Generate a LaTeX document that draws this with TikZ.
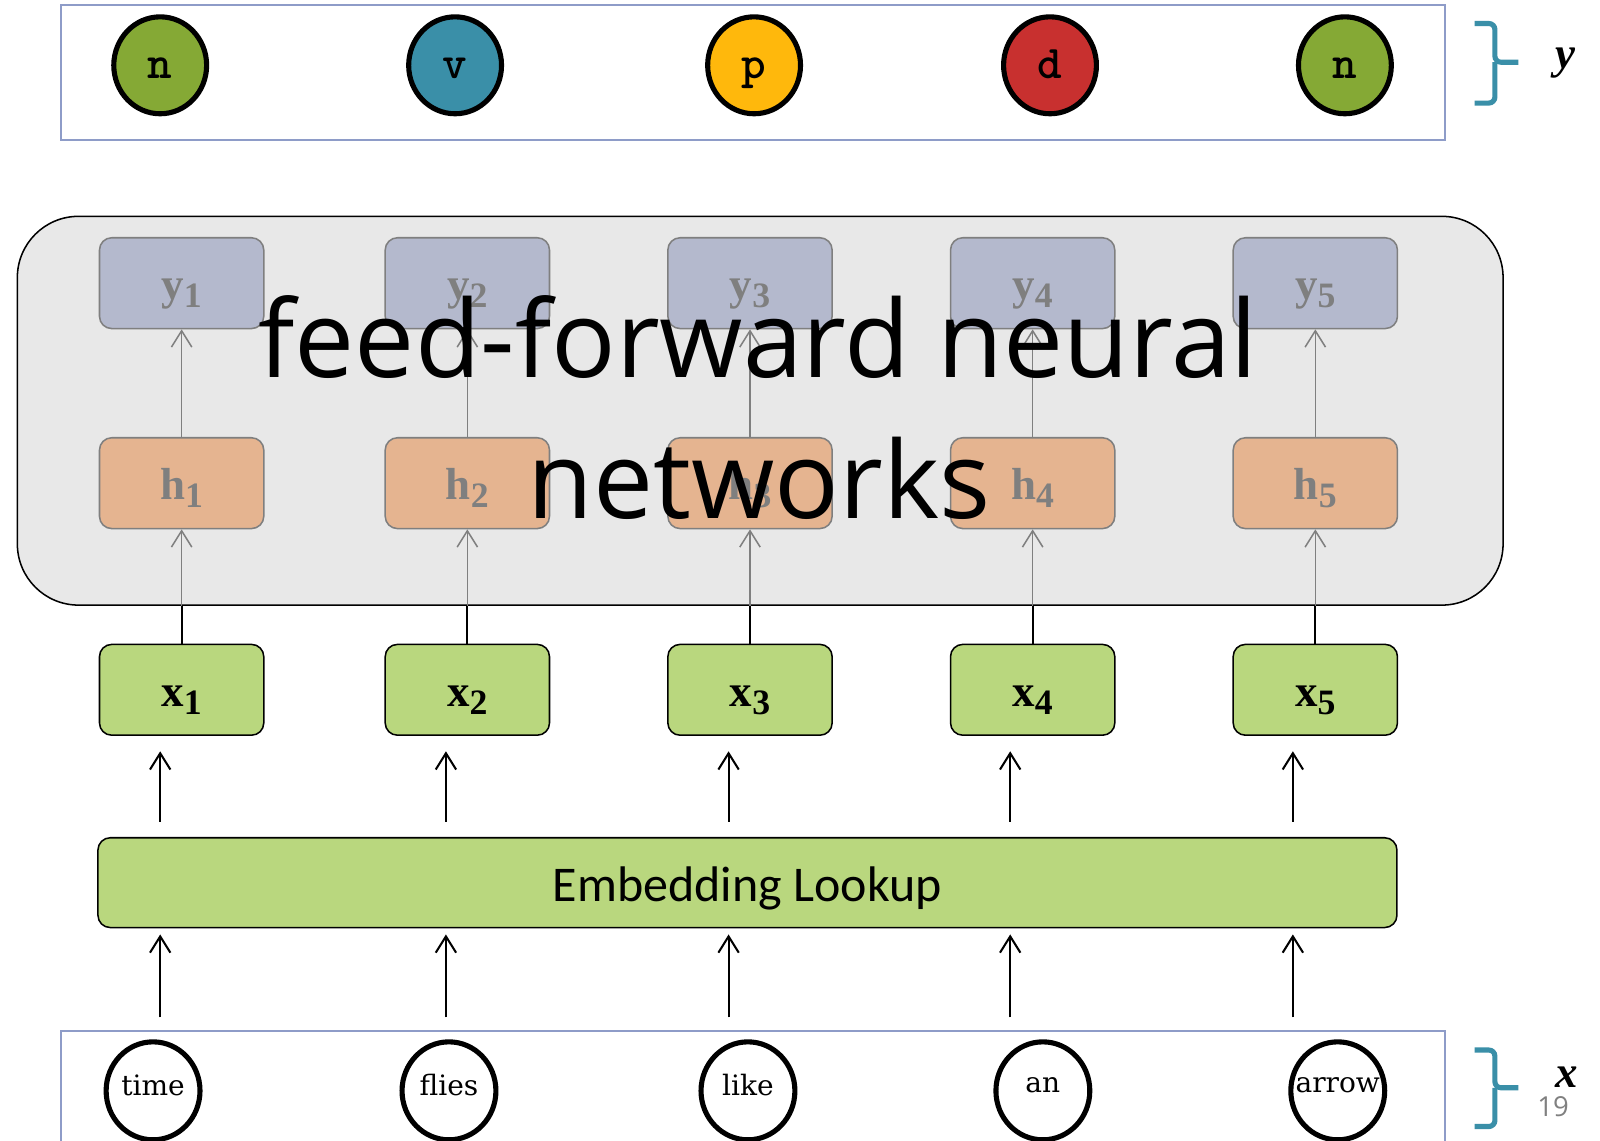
\documentclass[tikz,border=0pt]{standalone}
\usepackage{fontspec}
\setmainfont{Liberation Serif}
\newfontfamily\opensans{Open Sans}
\newfontfamily\carlito{Carlito}
\newfontfamily\dvserif{DejaVu Serif}
\usetikzlibrary{arrows.meta,calc,shapes.geometric}
\definecolor{tagframe}{HTML}{8E9CC8}
\definecolor{ngreen}{HTML}{85A935}
\definecolor{vteal}{HTML}{3A8FA8}
\definecolor{pyellow}{HTML}{FFB80C}
\definecolor{dred}{HTML}{C8302F}
\definecolor{panelgray}{HTML}{E8E8E8}
\definecolor{yfill}{HTML}{B4B9CD}
\definecolor{hfill}{HTML}{E5B490}
\definecolor{xfill}{HTML}{B9D77E}
\definecolor{gline}{HTML}{7F7F7F}
\definecolor{bracecol}{HTML}{3A8FA8}
\newcommand\tagfont{\ttfamily\bfseries\fontsize{46}{48}\selectfont}
\newcommand\wordfont{\dvserif\fontsize{27.5}{30}\selectfont}
\newcommand\boxfont{\fontsize{44}{48}\selectfont\bfseries}
\newcommand\sbs[1]{\raisebox{-8pt}{\fontsize{35}{36}\selectfont #1}}
\newcommand\bigfont{\opensans\fontsize{105}{138}\selectfont}
\newcommand\wl[1]{\makebox[0pt]{\raisebox{12pt}{#1}}}
\tikzset{
  tagcirc/.style={ellipse, draw, line width=5pt, minimum width=91pt, minimum height=95pt, inner sep=0pt, font=\tagfont, text height=26pt, text depth=0pt},
  wordcirc/.style={ellipse, draw, line width=5pt, minimum width=92pt, minimum height=96pt, inner sep=0pt, font=\wordfont},
  frame/.style={draw=tagframe, line width=2pt, minimum width=1356pt, inner sep=0pt},
  nnbox/.style={rounded corners=12pt, minimum width=161pt, minimum height=89pt, inner sep=0pt,
    font=\boxfont, text height=38pt, text depth=6pt},
  ybox/.style={nnbox, draw=gline, line width=1.5pt, fill=yfill, text=gline},
  hbox/.style={nnbox, draw=gline, line width=1.5pt, fill=hfill, text=gline},
  xbox/.style={nnbox, draw=black, line width=1.5pt, fill=xfill},
  garrow/.style={draw=gline, line width=1.5pt, -{Straight Barb[length=16pt,width=20pt]}},
  barrow/.style={draw=black, line width=2pt, -{Straight Barb[length=16pt,width=20pt]}},
  brace/.style={draw=bracecol, line width=5pt, rounded corners=6pt}
}
\begin{document}
\begin{tikzpicture}[x=1pt,y=-1pt]
\useasboundingbox (0,0) rectangle (1568,1118);
\fill[white] (0,0) rectangle (1568,1118);
% top tag row
\node[frame, minimum height=132pt] (yframe) at (738,71) {};
\node[tagcirc, fill=ngreen] (t1) at (157,64) {n};
\node[tagcirc, fill=vteal] (t2) at (446,64) {v};
\node[tagcirc, fill=pyellow] (t3) at (739,64) {p};
\node[tagcirc, fill=dred] (t4) at (1029,64) {d};
\node[tagcirc, fill=ngreen] (t5) at (1318,64) {n};
\draw[brace] (1445,23) -- (1465,23) -- (1465,61) -- (1488,61);
\draw[brace] (1445,101) -- (1465,101) -- (1465,61);
\node[font=\fontsize{44}{48}\selectfont\bfseries\itshape] (ylab) at (1534,62) {y};
% panel
\node[draw, line width=1.5pt, fill=panelgray, rounded corners=60pt, minimum width=1456pt, minimum height=381pt] (panel) at (745,402.5) {};
\foreach \i/\xx in {1/178,2/458,3/735,4/1012,5/1289}{
  \node[ybox] (y\i) at (\xx,277.5) {y\sbs{\i}};
  \node[hbox] (h\i) at (\xx,473.5) {h\sbs{\i}};
  \node[xbox] (x\i) at (\xx,676) {x\sbs{\i}};
  \draw[garrow] (h\i.north) -- (y\i.south);
  \draw[garrow] (x\i.north) -- (h\i.south);
  \draw[black, line width=2pt] (x\i.north) -- (x\i.north |- panel.south);
}
% embedding
\node[xbox, minimum width=1273pt, minimum height=88pt, font=\carlito\fontsize{49}{52}\selectfont, text height=36pt, text depth=0pt] (emb) at (732.5,865) {Embedding Lookup};
% bottom words
\node[frame, minimum height=130pt] (xframe) at (738,1075) {};
\node[wordcirc] (w1) at (150,1069) {\wl{time}};
\node[wordcirc] (w2) at (440,1069) {\wl{flies}};
\node[wordcirc] (w3) at (733,1069) {\wl{like}};
\node[wordcirc] (w4) at (1022,1069) {\wl{an}};
\node[wordcirc] (w5) at (1311,1069) {\wl{arrow}};
\foreach \i/\xx in {1/157,2/437,3/714,4/990,5/1267}{
  \coordinate (a\i) at (\xx,0);
  \draw[barrow, shorten <=15pt, shorten >=15pt] (emb.north -| a\i) -- (x\i.south -| a\i);
  \draw[barrow, shorten <=12pt, shorten >=6pt] (xframe.north -| a\i) -- (emb.south -| a\i);
}
\draw[brace] (1445,1029) -- (1465,1029) -- (1465,1066) -- (1488,1066);
\draw[brace] (1445,1104) -- (1465,1104) -- (1465,1066);
\node[font=\fontsize{44}{48}\selectfont\bfseries\itshape] (xlab) at (1535,1056) {x};
\node[text=gray, font=\opensans\fontsize{27}{30}\selectfont] (pnum) at (1522,1085) {19};
% overlay title
\node[anchor=base, font=\bigfont] (ff1) at (743,370) {feed-forward neural};
\node[anchor=base, font=\bigfont] (ff2) at (744,508) {networks};
\end{tikzpicture}
\end{document}
